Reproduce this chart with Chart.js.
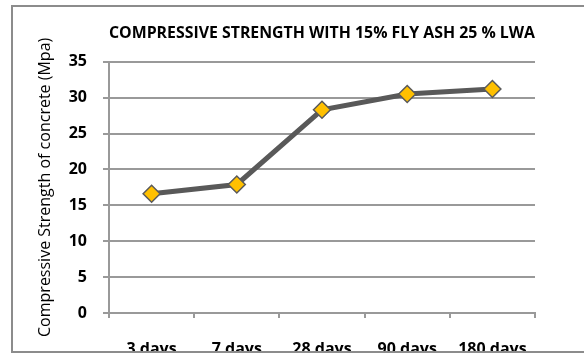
<!DOCTYPE html>
<html>
<head>
<meta charset="utf-8">
<script src="https://cdn.jsdelivr.net/npm/chart.js@4"></script>
<style>
  html, body { margin: 0; padding: 0; background: #fff; }
  body { width: 584px; height: 356px; overflow: hidden; position: relative; }
  #frame {
    position: absolute; left: 11px; top: 5px;
    width: 620px; height: 344px;
    border: 2px solid #8c8c8c;
    overflow: hidden; background: #fff;
  }
  #chart { position: absolute; left: -13px; top: -7px; }
</style>
</head>
<body>
<div id="frame"><canvas id="chart" width="584" height="380"></canvas></div>
<script>
// Compressive strength of concrete (15% fly ash, 25% LWA) by curing age
const ages = ['3 days', '7 days', '28 days', '90 days', '180 days'];
const strengthMpa = [16.6, 17.9, 28.3, 30.5, 31.2];
const yTicks = [0, 5, 10, 15, 20, 25, 30, 35];

const chartTitle = 'COMPRESSIVE STRENGTH WITH 15% FLY ASH 25 % LWA';
const yTitle = 'Compressive Strength of concrete (Mpa)';

const FONT = '"Open Sans", "DejaVu Sans", sans-serif';
const GRID = '#999999';

new Chart(document.getElementById('chart'), {
  type: 'line',
  data: {
    labels: ages,
    datasets: [{
      data: strengthMpa,
      borderColor: '#595959',
      borderWidth: 5,
      tension: 0,
      pointStyle: 'rectRot',
      pointRadius: 8.5,
      pointHoverRadius: 8.5,
      pointBackgroundColor: '#FFC000',
      pointBorderColor: '#5a5a5a',
      pointBorderWidth: 1.5
    }]
  },
  options: {
    responsive: false,
    animation: false,
    devicePixelRatio: 1,
    layout: { padding: { left: 0, right: 49, top: 0, bottom: 0 } },
    plugins: {
      legend: { display: false },
      tooltip: { enabled: false },
      title: {
        display: true,
        fullSize: false,
        text: chartTitle,
        color: '#000',
        font: { family: FONT, size: 16, weight: 'bold', lineHeight: 1.2 },
        padding: { top: 24, bottom: 18.5 }
      }
    },
    scales: {
      x: {
        offset: true,
        grid: {
          display: true,
          offset: true,
          drawOnChartArea: false,
          drawTicks: true,
          tickLength: 5,
          color: GRID,
          lineWidth: 2
        },
        border: { display: true, color: GRID, width: 2 },
        ticks: {
          color: '#000',
          padding: 22,
          maxRotation: 0,
          autoSkip: false,
          font: { family: FONT, size: 16, weight: 'bold' }
        },
        afterFit: s => { s.height = 380 - 313; }
      },
      y: {
        min: 0,
        max: 35,
        afterBuildTicks: s => { s.ticks = yTicks.map(v => ({ value: v })); },
        grid: {
          color: GRID,
          lineWidth: 2,
          drawTicks: true,
          tickLength: 6
        },
        border: { display: true, color: GRID, width: 2 },
        ticks: {
          color: '#000',
          padding: 16,
          font: { family: FONT, size: 16, weight: 'bold' }
        },
        title: {
          display: true,
          text: yTitle,
          color: '#000',
          font: { family: FONT, size: 16, weight: 'normal', lineHeight: 1.2 },
          padding: { top: 36, bottom: 0 }
        },
        afterFit: s => { s.width = 109; }
      }
    }
  }
});
</script>
</body>
</html>
